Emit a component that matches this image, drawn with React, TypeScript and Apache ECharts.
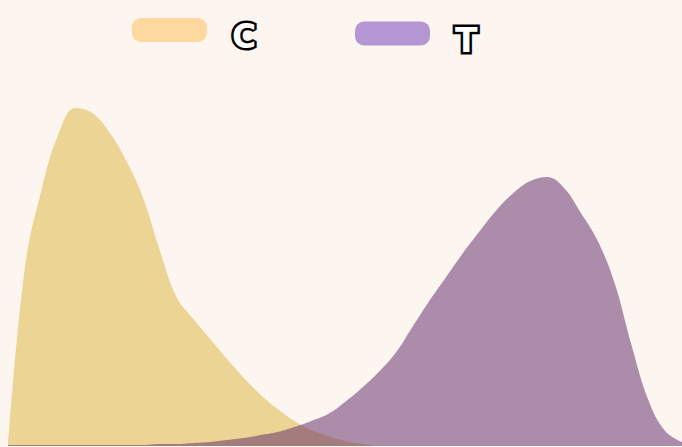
import { useEffect, useRef } from 'react';
import * as echarts from 'echarts';

// 41 evenly spaced sample points along the x range
const xPoints = Array.from({ length: 41 }, (_, i) => String(i));

const seriesC = [
  0, 0.178, 0.257, 0.312, 0.338, 0.333, 0.314, 0.286, 0.249, 0.196,
  0.149, 0.127, 0.107, 0.087, 0.068, 0.051, 0.037, 0.025, 0.016, 0.01,
  0.005, 0.002, 0, 0, 0, 0, 0, 0, 0, 0,
  0, 0, 0, 0, 0, 0, 0, 0, 0, 0, 0,
];

const seriesT = [
  0.001, 0.001, 0.001, 0.001, 0.001, 0.001, 0.001, 0.001, 0.001, 0.002,
  0.002, 0.003, 0.004, 0.006, 0.008, 0.011, 0.014, 0.019, 0.025, 0.032,
  0.044, 0.058, 0.074, 0.093, 0.119, 0.145, 0.169, 0.193, 0.215, 0.236,
  0.253, 0.265, 0.269, 0.258, 0.233, 0.205, 0.163, 0.101, 0.046, 0.015, 0.004,
];

const PILL = 'path://M9 0H66A9 9 0 0 1 75 9V15A9 9 0 0 1 66 24H9A9 9 0 0 1 0 15V9A9 9 0 0 1 9 0Z';

const legendText = {
  formatter: '{t|{name}}',
  textStyle: {
    rich: {
      t: {
        fontSize: 33,
        fontWeight: 'bold' as const,
        fontFamily: 'DejaVu Sans',
        color: '#ffffff',
        textBorderColor: '#000000',
        textBorderWidth: 5,
        padding: [13, 0, 0, 20],
      },
    },
  },
};

export default function App() {
  const ref = useRef<HTMLDivElement>(null);

  useEffect(() => {
    if (!ref.current) return;
    const chart = echarts.init(ref.current, undefined, { renderer: 'svg' });

    chart.setOption({
      animation: false,
      backgroundColor: '#FDF5F0',
      legend: [
        {
          left: 132,
          top: 17.5,
          padding: 0,
          itemWidth: 75,
          itemHeight: 24,
          icon: PILL,
          ...legendText,
          data: [{ name: 'C', itemStyle: { color: '#FFD8A0' } }],
        },
        {
          left: 355,
          top: 21,
          padding: 0,
          itemWidth: 75,
          itemHeight: 24,
          icon: PILL,
          ...legendText,
          data: [{ name: 'T', itemStyle: { color: '#B496D2' } }],
        },
      ],
      grid: { left: 8, right: 0, top: 46, bottom: 1 },
      xAxis: {
        type: 'category',
        boundaryGap: false,
        data: xPoints,
        show: false,
      },
      yAxis: {
        type: 'value',
        min: 0,
        max: 0.4,
        show: false,
        splitLine: { show: false },
      },
      series: [
        {
          name: 'C',
          type: 'line',
          data: seriesC,
          smooth: 0.4,
          showSymbol: false,
          lineStyle: { width: 0 },
          itemStyle: { color: '#FFD8A0' },
          areaStyle: { color: '#EBD494', opacity: 1 },
        },
        {
          name: 'T',
          type: 'line',
          data: seriesT,
          smooth: 0.4,
          showSymbol: false,
          lineStyle: { width: 0 },
          itemStyle: { color: '#B496D2' },
          areaStyle: { color: '#5C2466', opacity: 0.5 },
        },
      ],
    });

    return () => {
      chart.dispose();
    };
  }, []);

  return <div ref={ref} style={{ position: 'fixed', left: 0, top: 0, width: 682, height: 447 }} />;
}
